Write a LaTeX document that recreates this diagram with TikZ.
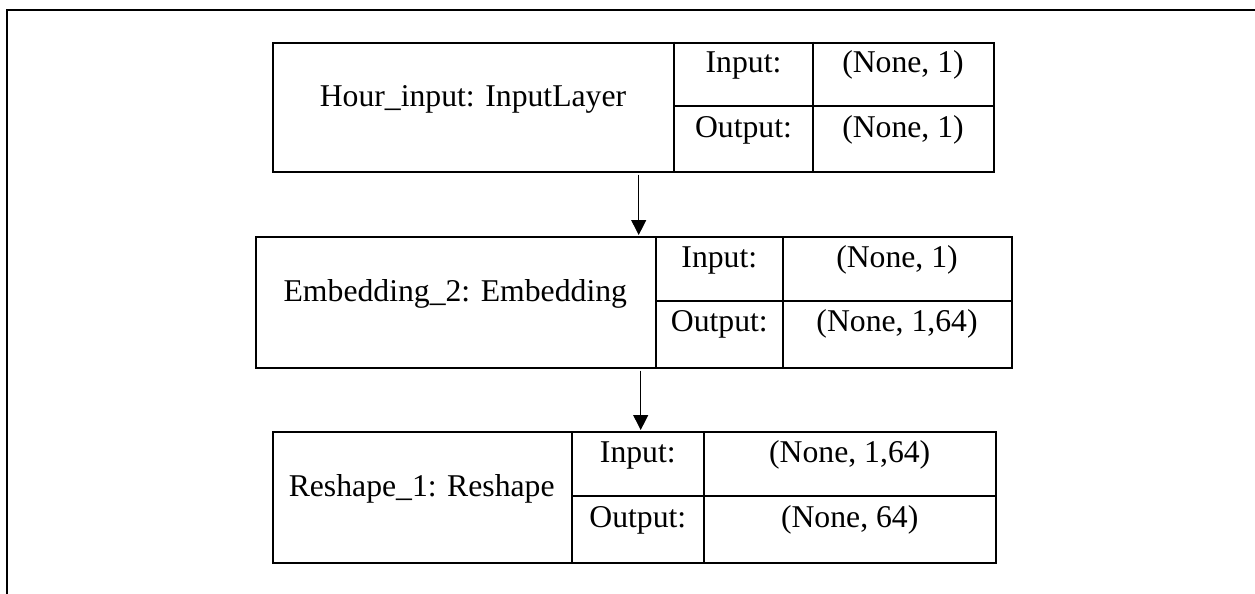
\documentclass[tikz,border=0pt]{standalone}
\usepackage{fontspec}
\setmainfont{Liberation Serif}
\usetikzlibrary{arrows.meta}
\begin{document}
\begin{tikzpicture}[x=1pt,y=-1pt,
  frame/.style={line width=2pt},
  layerbox/.style={draw, line width=2pt, rectangle, inner sep=0pt, anchor=north west},
  grid/.style={line width=2pt},
  lbl/.style={inner sep=0pt, anchor=base, font=\fontsize{31.7}{38}\selectfont},
  flow/.style={line width=1pt, -{Triangle[width=15pt,length=15pt]}, shorten <=2pt, shorten >=1pt}]
\useasboundingbox (0,0) rectangle (1255,594);
% page frame, running off the right and bottom edges
\draw[frame] (7,600) -- (7,9.7) -- (1262,9.7);

% layer 1: input layer
\node[layerbox, minimum width=720.7pt, minimum height=129pt] (hour) at (272,41.7) {};
\draw[grid] (674,41.7) -- (674,170.7);
\draw[grid] (813,41.7) -- (813,170.7);
\draw[grid] (674,106) -- (992.7,106);
\node[lbl] (hourname) at (473,106) {Hour\_input: InputLayer};
\node[lbl] (hourin) at (743.5,72.7) {Input:};
\node[lbl] (hourout) at (743.5,137.7) {Output:};
\node[lbl] (hourinv) at (903,72.7) {(None, 1)};
\node[lbl] (houroutv) at (903,137.7) {(None, 1)};

% layer 2: embedding
\node[layerbox, minimum width=756pt, minimum height=130.7pt] (emb) at (255,236) {};
\draw[grid] (655.7,236) -- (655.7,366.7);
\draw[grid] (783,236) -- (783,366.7);
\draw[grid] (655.7,300.7) -- (1011,300.7);
\node[lbl] (embname) at (455.3,301.3) {Embedding\_2: Embedding};
\node[lbl] (embin) at (719.3,267) {Input:};
\node[lbl] (embout) at (719.3,331.7) {Output:};
\node[lbl] (embinv) at (897,267) {(None, 1)};
\node[lbl] (emboutv) at (897,331.7) {(None, 1,64)};

% layer 3: reshape
\node[layerbox, minimum width=723.6pt, minimum height=130.7pt] (resh) at (271.7,431) {};
\draw[grid] (571.7,431) -- (571.7,561.7);
\draw[grid] (704,431) -- (704,561.7);
\draw[grid] (571.7,496) -- (995.3,496);
\node[lbl] (reshname) at (421.7,496) {Reshape\_1: Reshape};
\node[lbl] (reshin) at (637.8,462) {Input:};
\node[lbl] (reshout) at (637.8,527) {Output:};
\node[lbl] (reshinv) at (849.7,462) {(None, 1,64)};
\node[lbl] (reshoutv) at (849.7,527) {(None, 64)};

% connectors
\coordinate (a1) at (638.7,0);
\coordinate (a2) at (640.7,0);
\draw[flow] (a1 |- hour.south) -- (a1 |- emb.north);
\draw[flow] (a2 |- emb.south) -- (a2 |- resh.north);
\end{tikzpicture}
\end{document}
